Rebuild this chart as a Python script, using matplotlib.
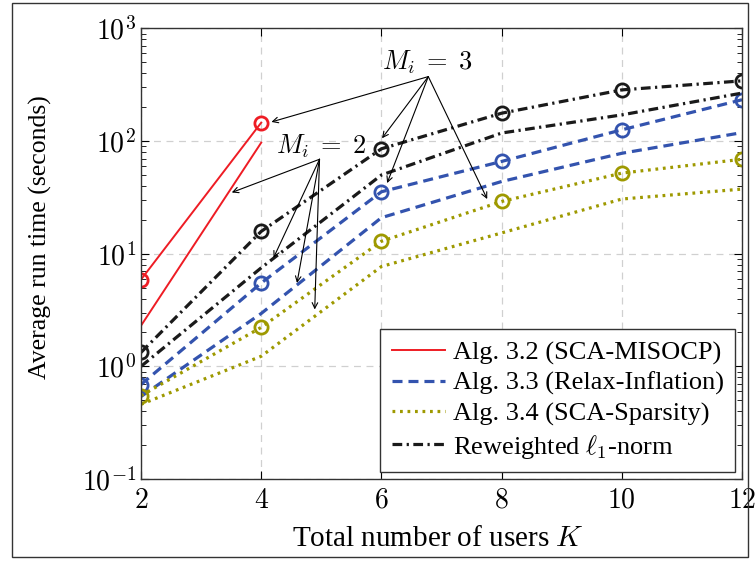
import matplotlib
matplotlib.use("Agg")
import matplotlib.pyplot as plt
from matplotlib.patches import Rectangle
from matplotlib.ticker import FuncFormatter
import numpy as np

# users K
K = [2, 4, 6, 8, 10, 12]
K_red = [2, 4]

# run times (seconds), M_i = 3 (marked) and M_i = 2 (plain)
sca_misocp_m3 = [5.9, 146]
sca_misocp_m2 = [2.3, 97]
relax_m3 = [0.69, 5.5, 35.5, 66, 126, 233]
relax_m2 = [0.54, 2.95, 20.9, 43.8, 78, 119]
sparsity_m3 = [0.55, 2.22, 12.9, 29.1, 52, 69]
sparsity_m2 = [0.46, 1.23, 7.7, 15.3, 30.6, 37.5]
reweight_m3 = [1.33, 15.8, 85.5, 177, 285, 343]
reweight_m2 = [1.0, 7.5, 50, 118, 171, 267]

plt.rcParams["mathtext.fontset"] = "cm"
plt.rcParams["lines.scale_dashes"] = False

RED = "#EE1C24"
BLUE = "#3353AE"
OLIVE = "#9E9900"
BLACK = "#1A1A1A"

fig = plt.figure(figsize=(7.55, 5.61), dpi=100)
ax = fig.add_axes([0.1868, 0.1462, 0.7960, 0.8030])
fig.patches.append(Rectangle((0.016, 0.007), 0.975, 0.988, transform=fig.transFigure,
                             fill=False, edgecolor="#333333", linewidth=1.0))

dash = (0, (7.2, 4.3))
dot = (0, (2.0, 3.4))
dashdot = (0, (7.0, 3.2, 1.6, 3.2))
mk = dict(marker="o", markersize=9.5, markerfacecolor="none", markeredgewidth=2.0)

ax.plot(K_red, sca_misocp_m3, color=RED, lw=1.4, markeredgecolor=RED, **mk)
ax.plot(K_red, sca_misocp_m2, color=RED, lw=1.4, label="Alg. 3.2 (SCA-MISOCP)")
ax.plot(K, relax_m3, color=BLUE, lw=2.3, linestyle=dash, markeredgecolor=BLUE, **mk)
ax.plot(K, relax_m2, color=BLUE, lw=2.3, linestyle=dash, label="Alg. 3.3 (Relax-Inflation)")
ax.plot(K, sparsity_m3, color=OLIVE, lw=2.3, linestyle=dot, markeredgecolor=OLIVE, **mk)
ax.plot(K, sparsity_m2, color=OLIVE, lw=2.3, linestyle=dot, label="Alg. 3.4 (SCA-Sparsity)")
ax.plot(K, reweight_m3, color=BLACK, lw=2.3, linestyle=dashdot, markeredgecolor=BLACK, **mk)
ax.plot(K, reweight_m2, color=BLACK, lw=2.3, linestyle=dashdot,
        label=r"Reweighted $\ell_1$-norm")

ax.set_yscale("log")
ax.set_xlim(2, 12)
ax.set_ylim(0.1, 1000)
ax.set_xticks(K)
ax.xaxis.set_major_formatter(FuncFormatter(lambda v, p: "$%d$" % v))
ax.yaxis.set_major_formatter(FuncFormatter(lambda v, p: "$10^{%d}$" % round(np.log10(v))))
ax.grid(True, which="major", color="#d0d0d0", linestyle=(0, (5, 4)), linewidth=0.9)
ax.tick_params(which="both", direction="in", top=True, right=True)
ax.tick_params(which="major", length=6, labelsize=20)
ax.tick_params(axis="x", pad=5)
ax.tick_params(which="minor", length=3.5)
for s in ax.spines.values():
    s.set_linewidth(1.0)
    s.set_color("#333333")

ax.set_xlabel("Total number of users $K$", fontsize=21, family="Liberation Serif")
ax.set_ylabel("Average run time (seconds)", fontsize=18.5, family="Liberation Serif")
ax.xaxis.set_label_coords(0.493, -0.105)
ax.yaxis.set_label_coords(-0.148, 0.536)

# annotations
arrow = dict(arrowstyle="->", color="black", lw=0.8, shrinkA=0, shrinkB=0)
ax.text(6.77, 500, "$M_i\\;=\\;3$", fontsize=19, ha="center", va="center")
m3_src = (6.78, 374)
for tip in [(4.17, 148), (6.01, 106), (6.095, 42.4), (7.76, 30.6)]:
    ax.annotate("", xy=tip, xytext=m3_src, arrowprops=arrow)
ax.text(5.0, 90, "$M_i\\;=\\;2$", fontsize=19, ha="center", va="center")
m2_src = (4.97, 69)
for tip in [(3.51, 35), (4.205, 9.2), (4.595, 5.5), (4.89, 3.2)]:
    ax.annotate("", xy=tip, xytext=m2_src, arrowprops=arrow)

leg = ax.legend(loc="lower right", prop={"family": "Liberation Serif", "size": 19},
                fancybox=False, framealpha=1, edgecolor="#333333", handlelength=2.0,
                borderaxespad=0.25, labelspacing=0.25, handletextpad=0.3,
                borderpad=0.45)
leg.get_frame().set_linewidth(1.0)

fig.savefig("out.png", dpi=100)
